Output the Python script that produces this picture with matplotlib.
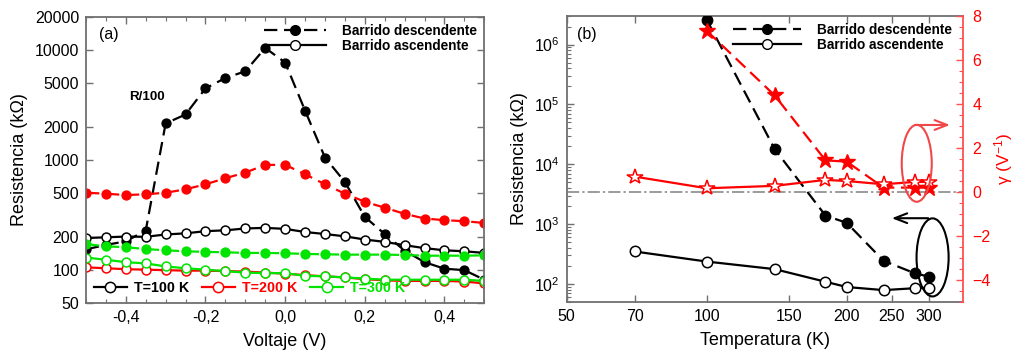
import matplotlib
matplotlib.use("Agg")
import matplotlib.pyplot as plt
from matplotlib.lines import Line2D
from matplotlib.patches import Ellipse
from matplotlib.ticker import FixedLocator, FuncFormatter, NullLocator, MultipleLocator, LogLocator, NullFormatter

plt.rcParams['font.family'] = ['Liberation Sans', 'DejaVu Sans']
plt.rcParams['mathtext.fontset'] = 'custom'
plt.rcParams['mathtext.rm'] = 'Liberation Sans'
plt.rcParams['mathtext.it'] = 'Liberation Sans:italic'

# ---------------- (a) R vs V ----------------
voltage = [-0.50, -0.45, -0.40, -0.35, -0.30, -0.25, -0.20, -0.15, -0.10, -0.05, 0.00,
           0.05, 0.10, 0.15, 0.20, 0.25, 0.30, 0.35, 0.40, 0.45, 0.50]
r100_desc = [153, 168, 181, 227, 2140, 2580, 4460, 5540, 6370, 10400, 7660,
             2800, 1047, 628, 302, 211, 149, 117, 102, 99, 81]          # R/100
r100_asc = [194, 197, 200, 199, 209, 214, 224, 228, 237, 240, 235,
            220, 211, 201, 188, 179, 167, 157, 150, 147, 142]
r200_desc = [501, 491, 477, 485, 501, 538, 598, 679, 764, 898, 898,
             738, 598, 491, 415, 366, 322, 292, 282, 276, 266]
r200_asc = [105, 103, 101, 100, 99, 98, 98, 97, 96, 94, 92,
            89, 87, 85, 82, 80, 79, 79, 79, 78, 75]
r300_desc = [171, 163, 160, 154, 150, 147, 145, 144, 142, 142, 141,
             139, 138, 137, 137, 137, 136, 134, 134, 134, 135]
r300_asc = [129, 123, 117, 114, 107, 103, 100, 97, 94, 93, 93,
            88, 87, 85, 83, 81, 81, 81, 81, 81, 79]

a_yticks = [50, 100, 200, 500, 1000, 2000, 5000, 10000, 20000]
a_xticks = [-0.4, -0.2, 0.0, 0.2, 0.4]

# ---------------- (b) R and gamma vs T ----------------
temp_desc = [100, 140, 180, 200, 240, 280, 300]
res_desc = [2.6e6, 1.79e4, 1390, 1050, 244, 151, 133]
temp_asc = [70, 100, 140, 180, 200, 240, 280, 300]
res_asc = [349, 237, 177, 109, 89, 79, 85, 87]
gamma_desc = [7.33, 4.39, 1.44, 1.38, 0.20, 0.20, 0.20]
gamma_asc = [0.70, 0.17, 0.28, 0.55, 0.50, 0.35, 0.46, 0.46]
b_xticks = [50, 70, 100, 150, 200, 250, 300]

RED = '#ff0000'
GREEN = '#00e400'
SPINE = '#707070'
DASH = (6, 3)

fig = plt.figure(figsize=(10.2, 3.6), dpi=100)
ax1 = fig.add_axes([0.0843, 0.159, 0.3905, 0.7946])
ax2 = fig.add_axes([0.5556, 0.1611, 0.3882, 0.7944])


def style_axes(ax):
    for s in ax.spines.values():
        s.set_color(SPINE)
        s.set_linewidth(1.3)
    ax.tick_params(which='both', direction='in', top=True, right=True,
                   color=SPINE, labelsize=11.5, pad=5)
    ax.tick_params(which='major', length=5, width=1)
    ax.tick_params(which='minor', length=3, width=0.8)


comma = FuncFormatter(lambda v, p: f"{v:.1f}".replace('.', ',').replace('-0,0', '0,0'))

# panel (a)
lw = 1.6
ms = 6.4
ax1.plot(voltage, r100_desc, color='black', lw=lw, dashes=DASH, marker='o', ms=ms,
         mfc='black', mec='black')
ax1.plot(voltage, r200_desc, color=RED, lw=lw, dashes=DASH, marker='o', ms=ms,
         mfc=RED, mec=RED)
ax1.plot(voltage, r100_asc, color='black', lw=lw, marker='o', ms=ms,
         mfc='white', mec='black', mew=1.1)
ax1.plot(voltage, r200_asc, color=RED, lw=lw, marker='o', ms=ms,
         mfc='white', mec=RED, mew=1.1)
ax1.plot(voltage, r300_desc, color=GREEN, lw=lw, dashes=DASH, marker='o', ms=ms,
         mfc=GREEN, mec=GREEN)
ax1.plot(voltage, r300_asc, color=GREEN, lw=lw, marker='o', ms=ms,
         mfc='white', mec=GREEN, mew=1.1)

ax1.set_yscale('log')
ax1.set_xlim(-0.5, 0.5)
ax1.set_ylim(50, 20000)
ax1.yaxis.set_major_locator(FixedLocator(a_yticks))
ax1.yaxis.set_major_formatter(FuncFormatter(lambda v, p: f"{int(round(v))}"))
ax1.yaxis.set_minor_locator(NullLocator())
ax1.xaxis.set_major_locator(FixedLocator(a_xticks))
ax1.xaxis.set_minor_locator(MultipleLocator(0.05))
ax1.xaxis.set_major_formatter(comma)
style_axes(ax1)
ax1.set_xlabel('Voltaje (V)', fontsize=13, labelpad=6)
ax1.set_ylabel('Resistencia (k\u03a9)', fontsize=13, labelpad=5)
ax1.text(0.033, 0.938, '(a)', transform=ax1.transAxes, fontsize=11.5, va='center')
ax1.text(0.109, 0.72, 'R/100', transform=ax1.transAxes, fontsize=9.6,
         fontweight='bold', va='center')

sweep_handles = [
    Line2D([], [], color='black', lw=lw, dashes=DASH, marker='o', ms=7, mfc='black'),
    Line2D([], [], color='black', lw=lw, marker='o', ms=7, mfc='white', mec='black'),
]
sweep_labels = ['Barrido descendente', 'Barrido ascendente']
leg_top = ax1.legend(sweep_handles, sweep_labels, loc='upper right', frameon=False,
                     prop={'weight': 'bold', 'size': 9.8}, handlelength=4.6,
                     handletextpad=1.2, borderaxespad=0.1, labelspacing=0.1,
                     bbox_to_anchor=(1.0, 1.0))
ax1.add_artist(leg_top)

temp_handles = [
    Line2D([], [], color=c, lw=lw, marker='o', ms=ms + 1, mfc='white', mec=c, mew=1.1)
    for c in ('black', RED, GREEN)
]
leg_bot = ax1.legend(temp_handles, ['T=100 K', 'T=200 K', 'T=300 K'], loc='lower left',
                     ncol=3, frameon=False, prop={'weight': 'bold', 'size': 10.3},
                     handlelength=2.3, handletextpad=0.5, columnspacing=0.9,
                     borderaxespad=0.15, bbox_to_anchor=(0.0, 0.0))
for txt, c in zip(leg_bot.get_texts(), ('black', RED, GREEN)):
    txt.set_color(c)

# panel (b)
msb = 7.5
ax2.plot(temp_desc, res_desc, color='black', lw=lw, dashes=DASH, marker='o', ms=msb,
         mfc='black', mec='black', zorder=3)
ax2.plot(temp_asc, res_asc, color='black', lw=lw, marker='o', ms=msb,
         mfc='white', mec='black', mew=1.1, zorder=3)
ax2.set_xscale('log')
ax2.set_yscale('log')
ax2.set_xlim(50, 355)
ax2.set_ylim(50, 3e6)
ax2.xaxis.set_major_locator(FixedLocator(b_xticks))
ax2.xaxis.set_major_formatter(FuncFormatter(lambda v, p: f"{int(round(v))}"))
ax2.xaxis.set_minor_locator(NullLocator())
ax2.yaxis.set_major_locator(LogLocator(base=10, numticks=10))
ax2.yaxis.set_minor_locator(LogLocator(base=10, subs=range(2, 10), numticks=10))
ax2.yaxis.set_minor_formatter(NullFormatter())
style_axes(ax2)
ax2.tick_params(right=False, which='both')
ax2.spines['right'].set_visible(False)
ax2.set_xlabel('Temperatura (K)', fontsize=13, labelpad=6)
ax2.set_ylabel('Resistencia (k\u03a9)', fontsize=13, labelpad=4)
ax2.text(0.025, 0.934, '(b)', transform=ax2.transAxes, fontsize=11.5, va='center')

ax2.legend(sweep_handles, sweep_labels, loc='upper right', frameon=False,
           prop={'weight': 'bold', 'size': 9.8}, handlelength=5.0,
           handletextpad=1.2, borderaxespad=0.1, labelspacing=0.1,
           bbox_to_anchor=(0.99, 1.0))

axg = ax2.twinx()
axg.set_ylim(-5, 8)
axg.axhline(0, color='#808080', lw=1.1, dashes=(8, 2, 1.5, 2), zorder=1)
axg.plot(temp_desc, gamma_desc, color=RED, lw=lw, dashes=DASH, marker='*', ms=12,
         mfc=RED, mec=RED, zorder=3)
axg.plot(temp_asc, gamma_asc, color=RED, lw=lw, marker='*', ms=11.5,
         mfc='white', mec=RED, mew=1.1, zorder=4)
axg.yaxis.set_major_locator(MultipleLocator(2))
axg.yaxis.set_minor_locator(MultipleLocator(0.5))
for s in ('left', 'top', 'bottom'):
    axg.spines[s].set_visible(False)
axg.spines['right'].set_color('#ff5050')
axg.spines['right'].set_linewidth(1.3)
axg.tick_params(which='both', direction='in', colors=RED, labelsize=11.5, pad=7)
axg.tick_params(which='major', length=5, width=1, color='#ff5050')
axg.tick_params(which='minor', length=3, width=0.8, color='#ff5050')
axg.set_ylabel('\u03b3 (V$^{-1}$)', fontsize=12.5, color=RED, labelpad=1)

# guide ellipses with arrows pointing to each axis
axg.add_patch(Ellipse((0.884, 0.485), 0.0758, 0.269, transform=axg.transAxes,
                      fill=False, ec='#f04848', lw=1.5, zorder=5))
axg.annotate('', xy=(0.975, 0.619), xytext=(0.872, 0.619), xycoords='axes fraction',
             textcoords='axes fraction',
             arrowprops=dict(arrowstyle='->,head_length=0.9,head_width=0.35',
                             color='#f04848', lw=1.5))
axg.add_patch(Ellipse((0.924, 0.156), 0.081, 0.273, transform=axg.transAxes,
                      fill=False, ec='black', lw=1.5, zorder=5))
axg.annotate('', xy=(0.814, 0.293), xytext=(0.920, 0.293), xycoords='axes fraction',
             textcoords='axes fraction',
             arrowprops=dict(arrowstyle='->,head_length=0.9,head_width=0.35',
                             color='black', lw=1.5))

fig.savefig('out.png', dpi=100)
